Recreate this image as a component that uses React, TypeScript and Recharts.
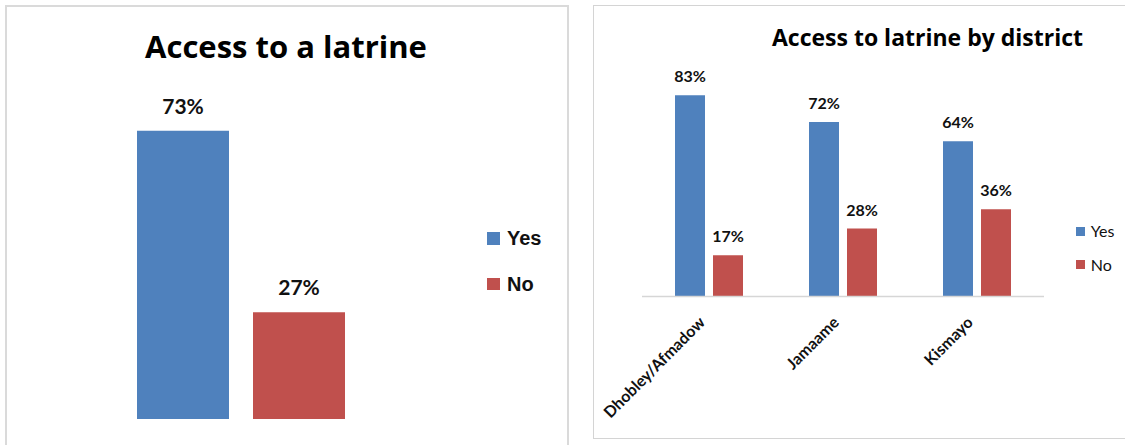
import { BarChart, Bar, XAxis, YAxis, LabelList } from 'recharts';

// overall access
const overallCategories = ['All respondents'];
const overallYes = [73];
const overallNo = [27];

// access by district
const districts = ['Dhobley/Afmadow', 'Jamaame', 'Kismayo'];
const districtYes = [83, 72, 64];
const districtNo = [17, 28, 36];

const seriesNames = ['Yes', 'No'];
const seriesColors = ['#4F81BD', '#C0504D'];

const overallData = overallCategories.map((name, i) => ({ name, Yes: overallYes[i], No: overallNo[i] }));
const districtData = districts.map((name, i) => ({ name, Yes: districtYes[i], No: districtNo[i] }));

const FONT = 'Lato, "Open Sans", sans-serif';
const TITLE_FONT = '"Open Sans", Lato, sans-serif';

function DistrictTick({ x, y, payload }: any) {
  return (
    <g transform={`translate(${x - 3},${y + 27})`}>
      <text textAnchor="end" transform="rotate(-45)" fontFamily={FONT} fontWeight={700} fontSize={16} fill="#111">
        {payload.value}
      </text>
    </g>
  );
}

interface LegendProps {
  left: number;
  top: number;
  box: number;
  rowGap: number;
  fontSize: number;
  fontFamily: string;
  fontWeight: number;
  textGap: number;
}

function SwatchLegend({ left, top, box, rowGap, fontSize, fontFamily, fontWeight, textGap }: LegendProps) {
  return (
    <>
      {seriesNames.map((name, i) => (
        <div
          key={name}
          style={{ position: 'absolute', left, top: top + i * rowGap, height: box, display: 'flex', alignItems: 'center' }}
        >
          <span style={{ width: box, height: box, background: seriesColors[i], display: 'inline-block' }} />
          <span style={{ marginLeft: textGap, fontFamily, fontWeight, fontSize, lineHeight: 1, color: '#111' }}>{name}</span>
        </div>
      ))}
    </>
  );
}

function Title({ cx, baseline, size, text }: { cx: number; baseline: number; size: number; text: string }) {
  return (
    <svg style={{ position: 'absolute', left: 0, top: 0 }} width={1125} height={445} pointerEvents="none">
      <text x={cx} y={baseline} textAnchor="middle" fontFamily={TITLE_FONT} fontWeight={700} fontSize={size} fill="#000">
        {text}
      </text>
    </svg>
  );
}

export default function App() {
  return (
    <div style={{ position: 'absolute', left: 0, top: 0, width: 1125, height: 445, background: '#fff', overflow: 'hidden' }}>
      {/* panel frames */}
      <div style={{ position: 'absolute', left: 5, top: 5, width: 564, height: 460, boxSizing: 'border-box', border: '2px solid #dadada' }} />
      <div style={{ position: 'absolute', left: 593, top: 5, width: 560, height: 434, boxSizing: 'border-box', border: '1.5px solid #d4d4d4' }} />

      <div style={{ position: 'absolute', left: 5, top: 5 }}>
        <BarChart
          width={564}
          height={440}
          data={overallData}
          margin={{ top: 19, right: 188, bottom: 26, left: 95 }}
          barSize={92}
          barGap={24}
        >
          <XAxis dataKey="name" hide />
          <YAxis hide domain={[0, 100]} />
          {seriesNames.map((s, i) => (
            <Bar key={s} dataKey={s} fill={seriesColors[i]} isAnimationActive={false}>
              <LabelList
                dataKey={s}
                position="top"
                offset={17}
                formatter={(v: any) => `${v}%`}
                style={{ fontFamily: FONT, fontWeight: 700, fontSize: 21, fill: '#111' }}
              />
            </Bar>
          ))}
        </BarChart>
      </div>

      <div style={{ position: 'absolute', left: 593, top: 5 }}>
        <BarChart
          width={532}
          height={433}
          data={districtData}
          margin={{ top: 49, right: 81, bottom: 41.5, left: 49 }}
          barSize={30}
          barGap={8}
        >
          <XAxis
            dataKey="name"
            height={100}
            axisLine={{ stroke: '#d6d6d6', strokeWidth: 1.5 }}
            tickLine={false}
            tickSize={0}
            tickMargin={0}
            interval={0}
            tick={<DistrictTick />}
          />
          <YAxis hide domain={[0, 100]} />
          {seriesNames.map((s, i) => (
            <Bar key={s} dataKey={s} fill={seriesColors[i]} isAnimationActive={false}>
              <LabelList
                dataKey={s}
                position="top"
                offset={13}
                formatter={(v: any) => `${v}%`}
                style={{ fontFamily: FONT, fontWeight: 700, fontSize: 16, fill: '#111' }}
              />
            </Bar>
          ))}
        </BarChart>
      </div>

      <Title cx={286} baseline={58} size={31} text="Access to a latrine" />
      <Title cx={927.5} baseline={45.5} size={23} text="Access to latrine by district" />

      <SwatchLegend left={487} top={232} box={12.5} rowGap={45.5} fontSize={20} fontFamily='"Liberation Sans", Arial, sans-serif' fontWeight={700} textGap={7.5} />
      <SwatchLegend left={1076} top={226.5} box={9.3} rowGap={33.5} fontSize={16} fontFamily={FONT} fontWeight={400} textGap={5.5} />
    </div>
  );
}
